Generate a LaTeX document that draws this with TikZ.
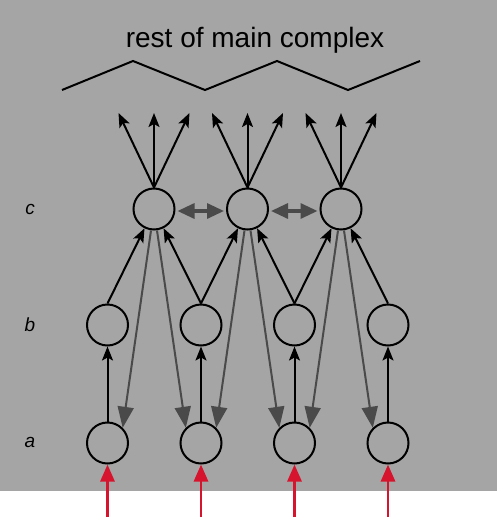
\documentclass[tikz,border=0pt]{standalone}
\usepackage{fontspec}
\setmainfont{Liberation Sans}
\usetikzlibrary{arrows.meta}
\definecolor{bggray}{HTML}{A5A5A5}
\definecolor{dgray}{HTML}{4A4A4A}
\definecolor{redarrow}{HTML}{D7142D}
\begin{document}
\begin{tikzpicture}[x=1pt,y=-1pt,
  neuron/.style={circle,draw=black,line width=2pt,minimum size=41pt,inner sep=0pt},
  blk/.style={draw=black,line width=2pt,-{Stealth[length=14pt,width=11pt,inset=3pt]}},
  gry/.style={draw=dgray,line width=2pt,-{Triangle[length=21pt,width=16pt]}},
  dbl/.style={draw=dgray,line width=3.2pt,{Triangle[length=17pt,width=15pt]}-{Triangle[length=17pt,width=15pt]},shorten <=2pt,shorten >=2pt},
  redarr/.style={draw=redarrow,line width=2.8pt,-{Triangle[length=17pt,width=14pt]}},
  lbl/.style={font=\itshape\fontsize{19}{22}\selectfont,inner sep=0pt}
]
\useasboundingbox (0,0) rectangle (498,522);
\fill[bggray] (0,0) rectangle (497,491);

% title and zigzag
\node[font=\fontsize{28}{32}\selectfont,anchor=base,inner sep=0pt] (title) at (255,47) {rest of main complex};
\draw[line width=2pt,line join=miter] (62,90) -- (133,61) -- (205,90) -- (277,61) -- (348,90) -- (420,61);

% layer labels
\node[lbl] (lc) at (30,209) {c};
\node[lbl] (lb) at (30,325) {b};
\node[lbl] (la) at (30,442) {a};

% nodes
\foreach \i/\x in {1/154,2/247.5,3/341} {
  \node[neuron] (c\i) at (\x,209) {};
  \coordinate (t\i l) at ({\x-35.5},113);
  \coordinate (t\i m) at (\x,113);
  \coordinate (t\i r) at ({\x+35.5},113);
  \draw[blk] (c\i.north) -- (t\i l);
  \draw[blk] (c\i.north) -- (t\i m);
  \draw[blk] (c\i.north) -- (t\i r);
}
\foreach \i/\x in {1/107.5,2/201,3/294.5,4/388} {
  \node[neuron] (b\i) at (\x,325) {};
  \node[neuron] (a\i) at (\x,443) {};
  \coordinate (r\i) at (\x,517);
  \draw[blk] (a\i) -- (b\i);
  \draw[redarr] (r\i) -- (a\i);
}

% b -> c
\draw[blk] (b1.north) -- (c1);
\draw[blk] (b2.north) -- (c1);
\draw[blk] (b2.north) -- (c2);
\draw[blk] (b3.north) -- (c2);
\draw[blk] (b3.north) -- (c3);
\draw[blk] (b4.north) -- (c3);

% c -> a (feedback)
\draw[gry] ([xshift=-3pt]c1.south) -- (a1.45);
\draw[gry] ([xshift=3pt]c1.south) -- (a2.135);
\draw[gry] ([xshift=-3pt]c2.south) -- (a2.45);
\draw[gry] ([xshift=3pt]c2.south) -- (a3.135);
\draw[gry] ([xshift=-3pt]c3.south) -- (a3.45);
\draw[gry] ([xshift=3pt]c3.south) -- (a4.135);

% lateral
\draw[dbl] ([yshift=-2pt]c1.east) -- ([yshift=-2pt]c2.west);
\draw[dbl] ([yshift=-2pt]c2.east) -- ([yshift=-2pt]c3.west);
\end{tikzpicture}
\end{document}
